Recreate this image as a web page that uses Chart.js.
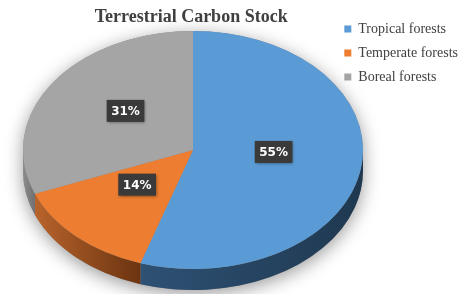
<!DOCTYPE html>
<html>
<head>
<meta charset="utf-8">
<script src="https://cdn.jsdelivr.net/npm/chart.js@4.4.0/dist/chart.umd.min.js"></script>
<style>
  html, body { margin: 0; padding: 0; background: #fff; }
</style>
</head>
<body>
<canvas id="pie" width="464" height="294"></canvas>
<script>
const labels = ['Tropical forests', 'Temperate forests', 'Boreal forests'];
const shares = [55, 14, 31];
const topColors = ['#5b9bd5', '#ed7d31', '#a5a5a5'];
const sideColors = [['#2e5174', '#1f3850'], ['#b8632b', '#6b3410'], ['#8c8c8c', '#707070']];

// the flat pie gets squashed into this ellipse to fake the 3D tilt
const tilt = { cx: 193, cy: 150, rx: 170, ry: 119, depth: 21 };

const tiltPlugin = {
  id: 'tilt',
  beforeDatasetsDraw(chart) {
    const ctx = chart.ctx;
    const arcs = chart.getDatasetMeta(0).data;
    const { cx, cy, rx, ry, depth } = tilt;

    // soft shadow round the body
    ctx.save();
    ctx.shadowColor = 'rgba(0,0,0,0.4)';
    ctx.shadowBlur = 18;
    ctx.shadowOffsetY = 4;
    ctx.fillStyle = '#888';
    ctx.beginPath();
    ctx.ellipse(cx, cy + depth, rx, ry, 0, 0, Math.PI);
    ctx.ellipse(cx, cy, rx, ry, 0, Math.PI, 2 * Math.PI);
    ctx.closePath();
    ctx.fill();
    ctx.restore();

    // side walls, only the front half shows
    arcs.forEach((arc, i) => {
      for (const k of [-2 * Math.PI, 0, 2 * Math.PI]) {
        const a0 = Math.max(arc.startAngle + k, 0);
        const a1 = Math.min(arc.endAngle + k, Math.PI);
        if (a1 <= a0) continue;
        const xl = cx + Math.cos(a1) * rx;
        const xr = cx + Math.cos(a0) * rx;
        const g = ctx.createLinearGradient(xl, 0, xr, 0);
        g.addColorStop(0, sideColors[i][0]);
        g.addColorStop(1, sideColors[i][1]);
        ctx.fillStyle = g;
        ctx.beginPath();
        ctx.ellipse(cx, cy, rx, ry, 0, a0, a1);
        ctx.ellipse(cx, cy + depth, rx, ry, 0, a1, a0, true);
        ctx.closePath();
        ctx.fill();
      }
    });

    const a = arcs[0];
    ctx.save();
    ctx.translate(cx, cy);
    ctx.scale(rx / a.outerRadius, ry / a.outerRadius);
    ctx.translate(-a.x, -a.y);
  },
  afterDatasetsDraw(chart) {
    const ctx = chart.ctx;
    ctx.restore();
    const arcs = chart.getDatasetMeta(0).data;
    const { cx, cy, rx, ry } = tilt;
    const total = shares.reduce((s, v) => s + v, 0);
    ctx.font = 'bold 12px "DejaVu Sans"';
    ctx.textAlign = 'center';
    ctx.textBaseline = 'middle';
    arcs.forEach((arc, i) => {
      const mid = (arc.startAngle + arc.endAngle) / 2;
      const x = cx + Math.cos(mid) * rx * 0.48;
      const y = cy - 7 + Math.sin(mid) * ry * 0.48;
      const text = Math.round(shares[i] / total * 100) + '%';
      const w = ctx.measureText(text).width + 9;
      ctx.save();
      ctx.shadowColor = 'rgba(0,0,0,0.45)';
      ctx.shadowBlur = 3;
      ctx.shadowOffsetX = 1;
      ctx.shadowOffsetY = 1;
      ctx.fillStyle = '#3a3a3a';
      ctx.fillRect(x - w / 2, y - 11, w, 22);
      ctx.restore();
      ctx.fillStyle = '#ffffff';
      ctx.fillText(text, x, y + 1);
    });
  }
};

new Chart(document.getElementById('pie'), {
  type: 'pie',
  data: {
    labels: labels,
    datasets: [{ data: shares, backgroundColor: topColors, borderWidth: 0, clip: false }]
  },
  options: {
    responsive: false,
    animation: false,
    layout: { padding: { top: 12, left: 48, right: -4, bottom: 0 } },
    plugins: {
      title: {
        display: true,
        text: 'Terrestrial Carbon Stock',
        fullSize: false,
        color: '#404040',
        font: { family: 'Liberation Serif', size: 18, weight: 'bold', lineHeight: 0.6 },
        padding: { top: 0, bottom: 0 }
      },
      legend: {
        position: 'right',
        align: 'start',
        labels: {
          boxWidth: 7,
          boxHeight: 7,
          color: '#404040',
          font: { family: 'Liberation Serif', size: 14 },
          padding: 10
        }
      },
      tooltip: { enabled: false }
    }
  },
  plugins: [tiltPlugin]
});
</script>
</body>
</html>
